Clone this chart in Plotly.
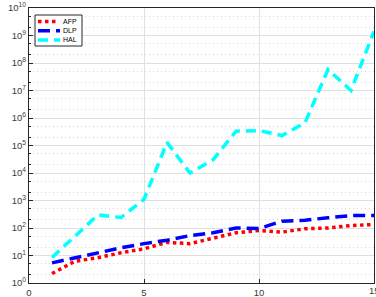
import plotly.graph_objects as go

x_vals = list(range(1, 16))
afp = [2.2, 6.2, 8.3, 12.6, 17.5, 30, 27, 44, 67, 81, 71, 94, 100, 123, 134]
dlp = [5.4, 8.3, 13, 19, 27, 36, 53, 67, 100, 95, 177, 192, 236, 283, 283]
hal = [8.5, 51, 300, 240, 1100, 1.3e5, 1.0e4, 3.0e4, 3.3e5, 3.5e5, 2.3e5, 6.7e5, 5.8e7, 1.0e7, 1.4e9]

series_names = ["AFP", "DLP", "HAL"]
series_colors = ["#ff0000", "#0000ff", "#00ffff"]
series_dash = ["dot", "12px,6px", "10px,6px"]

y_tickvals = [10 ** k for k in range(0, 11)]
y_ticktext = ["10<sup>%d</sup>" % k for k in range(0, 11)]
x_tickvals = [0, 5, 10, 15]

W, H = 376, 297
L, R, T, B = 29, 2, 8, 14
PW, PH = W - L - R, H - T - B

def px(xp):
    return (xp - L) / PW

def py(yp):
    return (H - B - yp) / PH

fig = go.Figure()
for name, ys, col, dsh in zip(series_names, [afp, dlp, hal], series_colors, series_dash):
    fig.add_trace(go.Scatter(x=x_vals, y=ys, name=name, mode="lines",
                             line=dict(color=col, width=3.5, dash=dsh)))

font = dict(family="Liberation Sans, Arial", size=9.5, color="#3a3a3a")
axis_common = dict(
    showline=True, linecolor="#262626", linewidth=1.2, mirror=True,
    ticks="inside", ticklen=4, tickcolor="#262626",
    tickfont=font, automargin=False,
    showgrid=True, gridcolor="#e0e0e0", gridwidth=1, zeroline=False,
)

fig.update_xaxes(range=[0, 15], tickvals=x_tickvals, **axis_common)
fig.update_yaxes(type="log", range=[0, 10], tickvals=y_tickvals, ticktext=y_ticktext,
                 minor=dict(ticks="inside", ticklen=2, tickcolor="#262626",
                            showgrid=True, gridcolor="#d6d6d6", griddash="1px,3px", gridwidth=1),
                 **axis_common)

# custom compact legend (MATLAB style)
shapes = [dict(type="rect", xref="paper", yref="paper",
               x0=px(35), x1=px(82), y0=py(46), y1=py(15),
               line=dict(color="#262626", width=1), fillcolor="white", layer="above")]
annotations = []
legend_rows = [21.5, 30.7, 40]
legend_ends = [57.5, 60, 60]
for name, col, dsh, yr, xe in zip(series_names, series_colors, series_dash, legend_rows, legend_ends):
    shapes.append(dict(type="line", xref="paper", yref="paper",
                       x0=px(38), x1=px(xe), y0=py(yr), y1=py(yr),
                       line=dict(color=col, width=3.5, dash=dsh), layer="above"))
    annotations.append(dict(xref="paper", yref="paper", x=px(62), y=py(yr),
                            text=name, showarrow=False, xanchor="left", yanchor="middle",
                            borderpad=0,
                            font=dict(family="Liberation Sans, Arial", size=7, color="#000000")))

# last x tick label, clipped by the page edge as in the reference
annotations.append(dict(xref="x", yref="paper", x=15, y=py(290), text="15",
                        showarrow=False, xanchor="center", yanchor="middle", font=font))

fig.update_layout(
    width=W, height=H,
    margin=dict(l=L, r=R, t=T, b=B),
    paper_bgcolor="white", plot_bgcolor="white",
    showlegend=False, shapes=shapes, annotations=annotations,
)

fig.write_html("out.html", config={"displayModeBar": False},
               post_script="document.body.style.margin='0';document.body.style.padding='0';")
